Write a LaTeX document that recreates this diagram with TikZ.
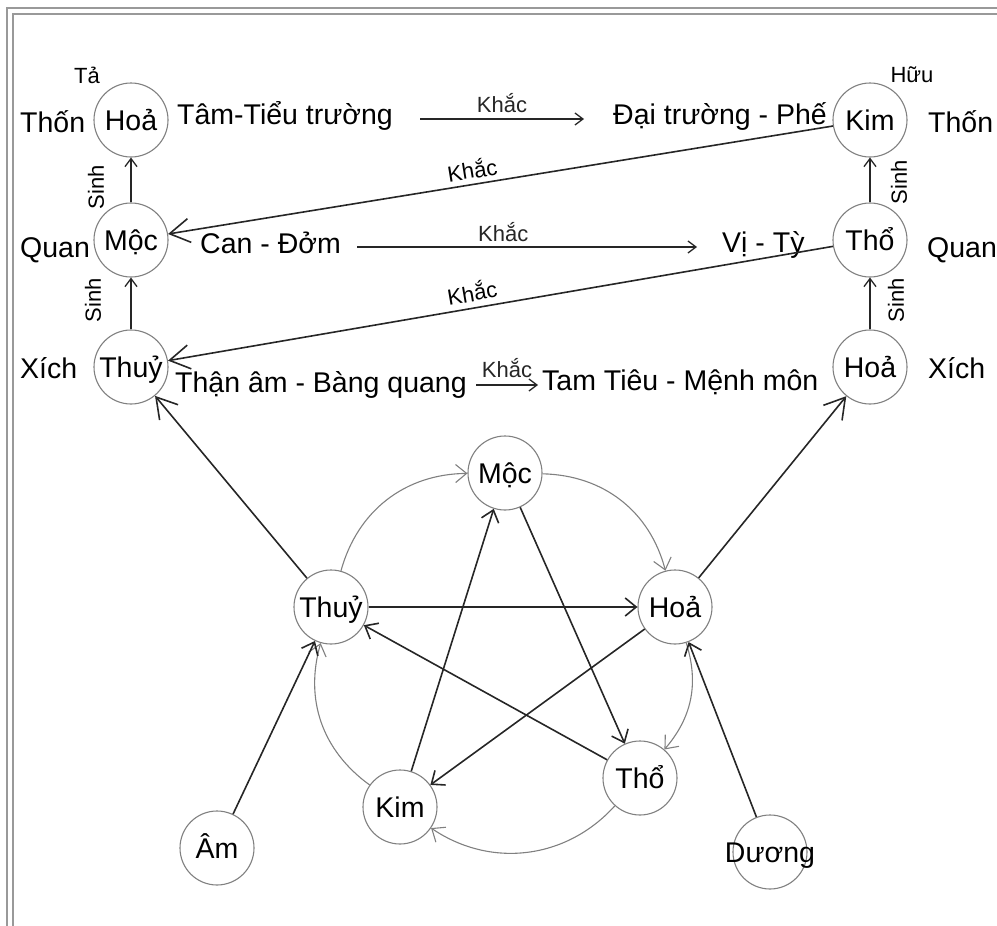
\documentclass[tikz,border=0pt]{standalone}
\usepackage{fontspec}
\setmainfont{Liberation Sans}
\usetikzlibrary{arrows.meta}
\begin{document}
\begin{tikzpicture}[x=1pt,y=1pt,
  circ/.style={circle,draw=black!50,line width=1.1pt,minimum size=74pt,inner sep=0pt,
    font=\fontsize{28.5}{30}\selectfont,text height=21pt,text depth=0pt},
  ctext/.style={font=\fontsize{28.5}{30}\selectfont,inner sep=0pt,text height=21pt,text depth=0pt},
  lbl/.style={font=\fontsize{28.5}{30}\selectfont,inner sep=0pt,anchor=base west},
  sm/.style={font=\fontsize{22}{24}\selectfont,inner sep=0pt},
  conn/.style={line width=1.6pt,black!85},
  thinconn/.style={line width=1.3pt,black!85},
  arcc/.style={line width=1.1pt,black!50},
  btip/.style={-{Straight Barb[length=20pt,width=24pt]}},
  mtip/.style={-{Straight Barb[length=11pt,width=18pt]}},
  stip/.style={-{Straight Barb[length=8pt,width=12pt]}},
  frame/.style={line width=2pt,black!40}
]
\useasboundingbox (0,0) rectangle (997,-926);
% frame
\draw[frame] (7,-926) -- (7,-8) -- (997,-8);
\draw[frame] (12.5,-926) -- (12.5,-13.5) -- (997,-13.5);

% top columns
\node[circ] (hoaT) at (131,-120) {Hoả};
\node[circ] (mocT) at (131,-240) {Mộc};
\node[circ] (thuyT) at (131,-367) {Thuỷ};
\node[circ] (kimT) at (870,-120) {Kim};
\node[circ] (thoT) at (870,-240) {Thổ};
\node[circ] (hoaR) at (870,-367) {Hoả};

\node[sm] (ta) at (87,-75) {Tả};
\node[sm] (huu) at (912,-75) {Hữu};
\node[lbl] (thonL) at (20,-132) {Thốn};
\node[lbl] (tam) at (177,-124) {Tâm-Tiểu trường};
\node[lbl] (dai) at (613,-124) {Đại trường - Phế};
\node[lbl] (thonR) at (928,-132) {Thốn};
\node[lbl] (quanL) at (20,-257) {Quan};
\node[lbl] (can) at (200,-253) {Can - Đởm};
\node[lbl] (vi) at (722,-252) {Vị - Tỳ};
\node[lbl] (quanR) at (927,-257) {Quan};
\node[lbl] (xichL) at (20,-378) {Xích};
\node[lbl] (than) at (175,-392) {Thận âm - Bàng quang};
\node[lbl] (tamt) at (542,-390) {Tam Tiêu - Mệnh môn};
\node[lbl] (xichR) at (928,-378) {Xích};

% horizontal khac arrows
\coordinate (k1s) at (420,-119);
\coordinate (k1e) at (584,-119);
\coordinate (k2s) at (357,-247);
\coordinate (k2e) at (697,-247);
\coordinate (k3s) at (476,-385);
\coordinate (k3e) at (538,-385);
\draw[thinconn,stip] (k1s) -- node[sm,above=6pt] {Khắc} (k1e);
\draw[thinconn,stip] (k2s) -- node[sm,above=5pt,pos=0.43] {Khắc} (k2e);
\draw[thinconn,stip] (k3s) -- node[sm,above=7pt] {Khắc} (k3e);

% sinh verticals
\draw[thinconn,stip] (mocT) -- (hoaT);
\draw[thinconn,stip] (thuyT) -- (mocT);
\draw[thinconn,stip] (thoT) -- (kimT);
\draw[thinconn,stip] (hoaR) -- (thoT);
\node[sm,rotate=90] (s1) at (96,-187) {Sinh};
\node[sm,rotate=90] (s2) at (93,-300) {Sinh};
\node[sm,rotate=90] (s3) at (899,-182) {Sinh};
\node[sm,rotate=90] (s4) at (896,-300) {Sinh};

% diagonal khac
\draw[conn,btip] (kimT) -- (mocT);
\draw[conn,btip] (thoT) -- (thuyT);
\node[sm,rotate=9.2] (kd1) at (472,-169) {Khắc};
\node[sm,rotate=9.7] (kd2) at (472,-292) {Khắc};

% lower pentagram
\node[circ] (moc) at (505,-473) {Mộc};
\node[circ] (thuy) at (331,-607) {Thuỷ};
\node[circ] (hoa) at (675,-607) {Hoả};
\node[circ] (kim) at (400,-807) {Kim};
\node[circ] (tho) at (640,-778) {Thổ};
\node[circ] (am) at (217,-848) {Âm};
\node[circ] (duong) at (770,-852) {};
\node[ctext] (duongt) at (770,-852) {Dương};

% sinh cycle arcs
\draw[arcc,mtip] (thuy) to[bend left=37] (moc);
\draw[arcc,mtip] (moc) to[bend left=37] (hoa);
\draw[arcc,mtip] (hoa) to[bend left=29] (tho);
\draw[arcc,mtip] (tho) to[bend left=41] (kim);
\draw[arcc,mtip] (kim) to[bend left=35] (thuy);

% khac star
\draw[conn,mtip] (thuy) -- (hoa);
\draw[conn,mtip] (moc) -- (tho);
\draw[conn,mtip] (tho) -- (thuy);
\draw[conn,mtip] (hoa) -- (kim);
\draw[conn,mtip] (kim) -- (moc);

% links to top and am/duong
\draw[conn,btip] (thuy) -- (thuyT);
\draw[conn,btip] (hoa) -- (hoaR);
\draw[conn,mtip] (am) -- (thuy);
\draw[conn,mtip] (duong) -- (hoa);
\end{tikzpicture}
\end{document}
